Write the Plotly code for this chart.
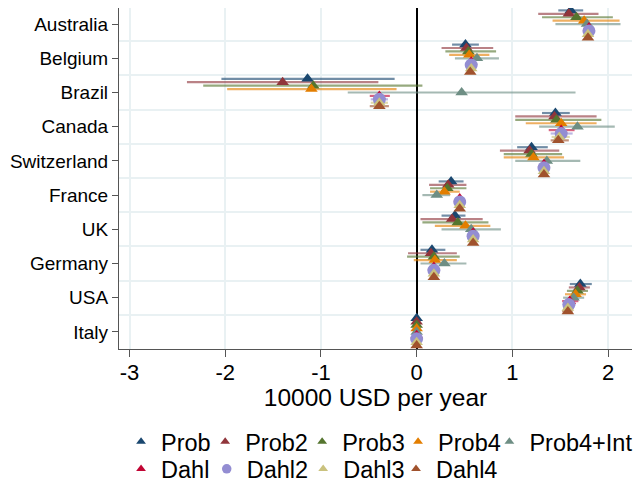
import plotly.graph_objects as go

countries = ["Australia", "Belgium", "Brazil", "Canada", "Switzerland",
             "France", "UK", "Germany", "USA", "Italy"]
series = ["Prob", "Prob2", "Prob3", "Prob4", "Prob4+Int",
          "Dahl", "Dahl2", "Dahl3", "Dahl4"]

prob_est = [1.61, 0.51, -1.14, 1.45, 1.20, 0.36, 0.40, 0.16, 1.71, 0.00]
prob_lo = [1.48, 0.37, -2.04, 1.31, 1.05, 0.23, 0.26, 0.04, 1.60, -0.02]
prob_hi = [1.74, 0.65, -0.23, 1.60, 1.37, 0.49, 0.51, 0.30, 1.83, 0.02]

prob2_est = [1.59, 0.52, -1.40, 1.44, 1.18, 0.33, 0.37, 0.15, 1.70, 0.00]
prob2_lo = [1.27, 0.26, -2.40, 1.03, 0.87, 0.13, 0.04, -0.09, 1.59, -0.02]
prob2_hi = [1.90, 0.80, -0.40, 1.88, 1.49, 0.52, 0.69, 0.42, 1.81, 0.02]

prob3_est = [1.67, 0.54, -1.08, 1.46, 1.20, 0.32, 0.43, 0.18, 1.68, 0.00]
prob3_lo = [1.31, 0.30, -2.23, 1.03, 0.91, 0.14, 0.06, -0.10, 1.57, -0.02]
prob3_hi = [2.05, 0.83, 0.06, 1.93, 1.52, 0.52, 0.75, 0.45, 1.79, 0.02]

prob4_est = [1.75, 0.55, -1.10, 1.51, 1.22, 0.29, 0.51, 0.19, 1.66, 0.00]
prob4_lo = [1.42, 0.34, -1.98, 1.14, 0.91, 0.14, 0.19, -0.03, 1.55, -0.02]
prob4_hi = [2.12, 0.76, -0.21, 1.88, 1.54, 0.45, 0.77, 0.42, 1.77, 0.02]

prob4int_est = [1.78, 0.63, 0.47, 1.68, 1.36, 0.21, 0.57, 0.29, 1.64, 0.00]
prob4int_lo = [1.45, 0.40, -0.72, 1.28, 1.03, 0.06, 0.26, 0.04, 1.53, -0.02]
prob4int_hi = [2.13, 0.86, 1.66, 2.07, 1.71, 0.35, 0.88, 0.52, 1.75, 0.02]

dahl_est = [1.80, 0.57, -0.39, 1.51, 1.33, 0.45, 0.59, 0.18, 1.60, 0.00]
dahl_lo = [1.76, 0.54, -0.49, 1.38, 1.30, 0.42, 0.56, 0.15, 1.52, -0.01]
dahl_hi = [1.84, 0.60, -0.28, 1.65, 1.36, 0.48, 0.62, 0.21, 1.69, 0.01]

dahl2_est = [1.80, 0.57, -0.39, 1.51, 1.33, 0.45, 0.59, 0.18, 1.59, 0.00]
dahl2_lo = [1.77, 0.54, -0.48, 1.40, 1.30, 0.42, 0.56, 0.15, 1.53, -0.01]
dahl2_hi = [1.83, 0.60, -0.30, 1.63, 1.36, 0.48, 0.62, 0.21, 1.66, 0.01]

dahl3_est = [1.79, 0.57, -0.39, 1.49, 1.33, 0.45, 0.59, 0.18, 1.58, 0.00]
dahl3_lo = [1.76, 0.54, -0.48, 1.41, 1.30, 0.42, 0.56, 0.15, 1.53, -0.01]
dahl3_hi = [1.82, 0.60, -0.30, 1.60, 1.36, 0.48, 0.62, 0.21, 1.64, 0.01]

dahl4_est = [1.79, 0.56, -0.39, 1.48, 1.33, 0.45, 0.59, 0.18, 1.58, 0.00]
dahl4_lo = [1.76, 0.53, -0.49, 1.40, 1.30, 0.42, 0.56, 0.15, 1.52, -0.01]
dahl4_hi = [1.82, 0.59, -0.29, 1.59, 1.36, 0.48, 0.62, 0.21, 1.63, 0.01]

x_ticks = [-3, -2, -1, 0, 1, 2]

ests = [prob_est, prob2_est, prob3_est, prob4_est, prob4int_est,
        dahl_est, dahl2_est, dahl3_est, dahl4_est]
los = [prob_lo, prob2_lo, prob3_lo, prob4_lo, prob4int_lo,
       dahl_lo, dahl2_lo, dahl3_lo, dahl4_lo]
his = [prob_hi, prob2_hi, prob3_hi, prob4_hi, prob4int_hi,
       dahl_hi, dahl2_hi, dahl3_hi, dahl4_hi]

colors = [(26, 71, 111), (144, 53, 59), (85, 117, 47), (227, 126, 0),
          (110, 142, 132), (193, 5, 52), (147, 141, 210), (202, 194, 126),
          (160, 82, 45)]
symbols = ["triangle-up"] * 6 + ["circle"] + ["triangle-up"] * 2
sizes = [11] * 6 + [13] + [11] * 2
legend_sizes = [8.5] * 6 + [9.5] + [8.5] * 2

# legend layout (paper coords): two rows, Stata-like columns
legend_x = [0.004, 0.168, 0.357, 0.544, 0.722,
            0.004, 0.171, 0.359, 0.540]
legend_y = [-0.272] * 5 + [-0.352] * 4

n = len(series)
fig = go.Figure()

# confidence intervals first (drawn underneath all markers)
for k in range(n):
    off = (k - (n - 1) / 2) * 0.1
    ys = [i + off for i in range(len(countries))]
    r, g, b = colors[k]
    fig.add_trace(go.Scatter(
        x=ests[k], y=ys, mode="markers",
        marker=dict(size=1, opacity=0),
        error_x=dict(type="data", symmetric=False,
                     array=[h - e for h, e in zip(his[k], ests[k])],
                     arrayminus=[e - l for e, l in zip(ests[k], los[k])],
                     width=0, thickness=2.2,
                     color=f"rgba({r},{g},{b},0.62)"),
        showlegend=False, hoverinfo="skip"))

for k in range(n):
    off = (k - (n - 1) / 2) * 0.1
    ys = [i + off for i in range(len(countries))]
    r, g, b = colors[k]
    fig.add_trace(go.Scatter(
        x=ests[k], y=ys, mode="markers", name=series[k],
        marker=dict(symbol=symbols[k], size=sizes[k],
                    color=f"rgb({r},{g},{b})", line=dict(width=0)),
        showlegend=False))

legend_layouts = {}
for k in range(n):
    r, g, b = colors[k]
    lname = "legend" if k == 0 else f"legend{k + 1}"
    fig.add_trace(go.Scatter(
        x=[None], y=[None], mode="markers", name=series[k],
        marker=dict(symbol=symbols[k], size=legend_sizes[k],
                    color=f"rgb({r},{g},{b})", line=dict(width=0)),
        legend=lname, showlegend=True))
    legend_layouts[lname] = dict(
        orientation="h", x=legend_x[k], xanchor="left",
        y=legend_y[k], yanchor="middle", font=dict(size=23.5),
        itemwidth=30, bgcolor="rgba(0,0,0,0)", borderwidth=0)

fig.update_layout(
    width=635, height=483,
    margin=dict(l=119, r=3, t=8, b=134, autoexpand=False),
    plot_bgcolor="white", paper_bgcolor="white",
    font=dict(family="Liberation Sans, Arial, sans-serif", color="black"),
    xaxis=dict(range=[-3.11, 2.25], tickvals=x_ticks,
               ticktext=[str(v) for v in x_ticks],
               showgrid=True, gridcolor="#e9f1f3", gridwidth=1.5,
               zeroline=True, zerolinecolor="black", zerolinewidth=1.8,
               showline=True, linecolor="#555", linewidth=1.2,
               ticks="outside", ticklen=7, tickcolor="#555",
               ticklabelstandoff=-4,
               tickfont=dict(size=22),
               title=dict(text="10000 USD per year", font=dict(size=24.5),
                          standoff=0)),
    yaxis=dict(range=[len(countries) - 0.5, -0.47],
               tickvals=list(range(len(countries))), ticktext=countries,
               showgrid=False, zeroline=False,
               showline=True, linecolor="#555", linewidth=1.2,
               ticks="outside", ticklen=6, tickcolor="#555",
               tickfont=dict(size=19),
               minor=dict(tickmode="array",
                          tickvals=[i + 0.5 for i in range(len(countries) - 1)],
                          showgrid=True, gridcolor="#e9f1f3", gridwidth=2,
                          ticks="")),
    **legend_layouts,
)

fig.write_html("out.html")
